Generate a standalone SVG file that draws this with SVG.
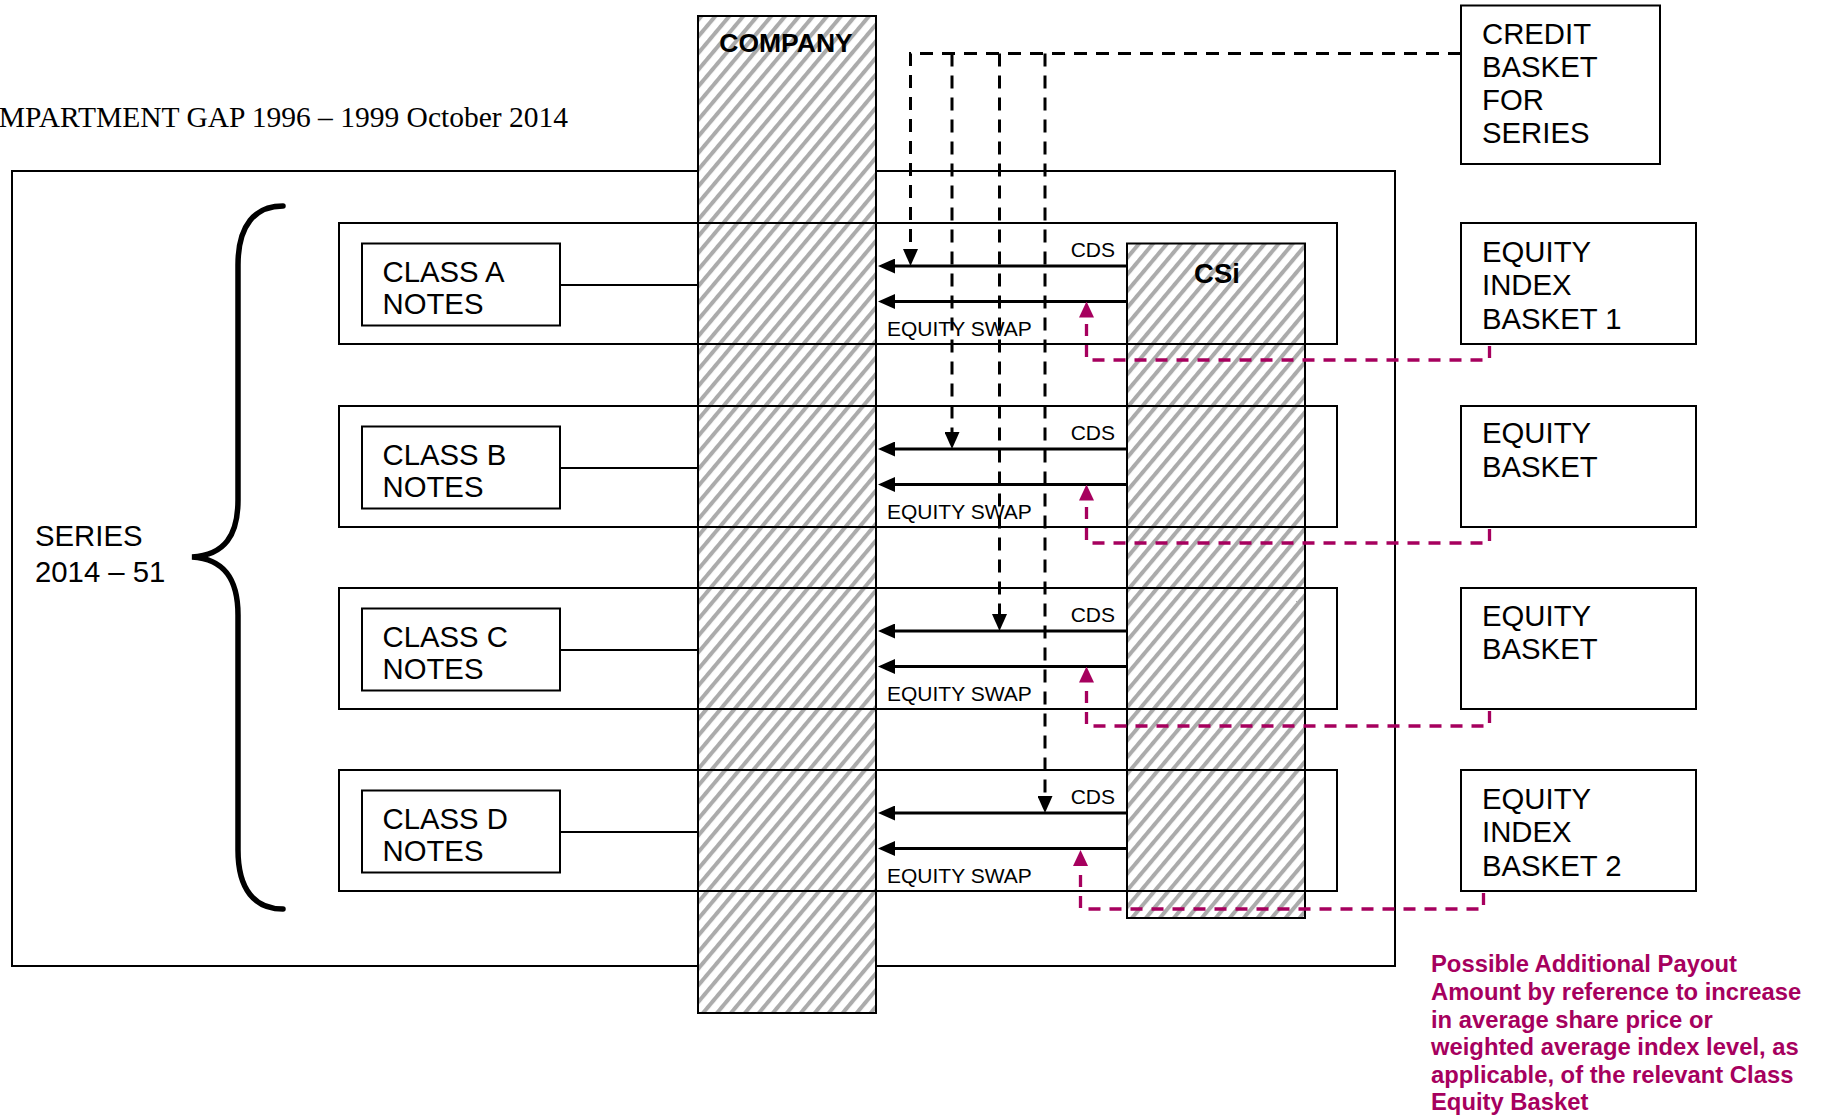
<svg xmlns="http://www.w3.org/2000/svg" width="1829" height="1118" viewBox="0 0 1829 1118">
<style>
  .box{fill:none;stroke:#000;stroke-width:2}
  .lbl{font-family:"Liberation Sans",Arial,sans-serif;font-size:29.3px;fill:#000}
  .sm{font-family:"Liberation Sans",Arial,sans-serif;font-size:21px;fill:#000}
  .bold{font-family:"Liberation Sans",Arial,sans-serif;font-weight:bold;fill:#000}
  .flow{fill:none;stroke:#000;stroke-width:3}
  .cred{fill:none;stroke:#000;stroke-width:3;stroke-dasharray:13 9}
  .mag{fill:none;stroke:#A6005E;stroke-width:3.3;stroke-dasharray:12 9}
  .note{font-family:"Liberation Sans",Arial,sans-serif;font-weight:bold;font-size:23.8px;fill:#A6005E}
</style>
<defs>
  <pattern id="hatch" patternUnits="userSpaceOnUse" width="10.7" height="20" patternTransform="rotate(40)">
    <rect x="0" y="0" width="10.7" height="20" fill="#fff"/>
    <rect x="0" y="0" width="4" height="20" fill="#ababab"/>
  </pattern>
  <marker id="ab" markerUnits="userSpaceOnUse" markerWidth="17" markerHeight="15" refX="11" refY="7.5" orient="auto">
    <path d="M0,0 L17,7.5 L0,15 Z" fill="#000"/>
  </marker>
  <marker id="am" markerUnits="userSpaceOnUse" markerWidth="16" markerHeight="15" refX="10" refY="7.5" orient="auto">
    <path d="M0,0 L16,7.5 L0,15 Z" fill="#A6005E"/>
  </marker>
</defs>
<rect width="1829" height="1118" fill="#fff"/>

<text x="568" y="127" text-anchor="end" font-family="Liberation Serif,'Times New Roman',serif" font-size="29.5" fill="#000">MPARTMENT GAP 1996 – 1999 October 2014</text>

<g id="compartment">
  <rect class="box" x="12" y="171" width="1383" height="795"/>
</g>

<g id="company">
  <rect x="698" y="16" width="178" height="997" fill="url(#hatch)" stroke="#000" stroke-width="2"/>
  <text class="bold" x="786" y="52" font-size="26.5" text-anchor="middle">COMPANY</text>
</g>

<g id="csi">
  <rect x="1127" y="243.5" width="178" height="674.5" fill="url(#hatch)" stroke="#000" stroke-width="2"/>
  <text class="bold" x="1217" y="283" font-size="27.5" text-anchor="middle">CSi</text>
</g>

<g id="series">
  <path d="M283,206 C255,206 238,225 238,265 L238,500 C238,535 225,555 192,557 C225,559 238,580 238,615 L238,850 C238,890 255,909 283,909" fill="none" stroke="#000" stroke-width="5.5" stroke-linecap="round"/>
  <text class="lbl" x="35" y="546">SERIES</text>
  <text class="lbl" x="35" y="582">2014 – 51</text>
</g>

<g id="row-a">
  <rect class="box" x="339" y="223" width="998" height="121"/>
  <rect class="box" x="362" y="243.5" width="198" height="82"/>
  <text class="lbl" x="382.5" y="282">CLASS A</text>
  <text class="lbl" x="382.5" y="314">NOTES</text>
</g>
<g id="row-b">
  <rect class="box" x="339" y="406" width="998" height="121"/>
  <rect class="box" x="362" y="426.5" width="198" height="82"/>
  <text class="lbl" x="382.5" y="465">CLASS B</text>
  <text class="lbl" x="382.5" y="497">NOTES</text>
</g>
<g id="row-c">
  <rect class="box" x="339" y="588" width="998" height="121"/>
  <rect class="box" x="362" y="608.5" width="198" height="82"/>
  <text class="lbl" x="382.5" y="647">CLASS C</text>
  <text class="lbl" x="382.5" y="679">NOTES</text>
</g>
<g id="row-d">
  <rect class="box" x="339" y="770" width="998" height="121"/>
  <rect class="box" x="362" y="790.5" width="198" height="82"/>
  <text class="lbl" x="382.5" y="829">CLASS D</text>
  <text class="lbl" x="382.5" y="861">NOTES</text>
</g>

<g id="credit-basket">
  <rect class="box" x="1461" y="5.5" width="199" height="158.5"/>
  <text class="lbl" x="1482" y="43.5">CREDIT</text>
  <text class="lbl" x="1482" y="76.5">BASKET</text>
  <text class="lbl" x="1482" y="110">FOR</text>
  <text class="lbl" x="1482" y="143">SERIES</text>
</g>
<g id="equity-index-basket-1">
  <rect class="box" x="1461" y="223" width="235" height="121"/>
  <text class="lbl" x="1482" y="262">EQUITY</text>
  <text class="lbl" x="1482" y="295">INDEX</text>
  <text class="lbl" x="1482" y="328.5">BASKET 1</text>
</g>
<g id="equity-basket-b">
  <rect class="box" x="1461" y="406" width="235" height="121"/>
  <text class="lbl" x="1482" y="443">EQUITY</text>
  <text class="lbl" x="1482" y="477">BASKET</text>
</g>
<g id="equity-basket-c">
  <rect class="box" x="1461" y="588" width="235" height="121"/>
  <text class="lbl" x="1482" y="626">EQUITY</text>
  <text class="lbl" x="1482" y="659">BASKET</text>
</g>
<g id="equity-index-basket-2">
  <rect class="box" x="1461" y="770" width="235" height="121"/>
  <text class="lbl" x="1482" y="809">EQUITY</text>
  <text class="lbl" x="1482" y="842">INDEX</text>
  <text class="lbl" x="1482" y="876">BASKET 2</text>
</g>

<g id="note">
  <text class="note" x="1431" y="972">Possible Additional Payout</text>
  <text class="note" x="1431" y="1000">Amount by reference to increase</text>
  <text class="note" x="1431" y="1028">in average share price or</text>
  <text class="note" x="1431" y="1055">weighted average index level, as</text>
  <text class="note" x="1431" y="1083">applicable, of the relevant Class</text>
  <text class="note" x="1431" y="1110">Equity Basket</text>
</g>

<g id="connectors">
  <line class="box" x1="560" y1="285" x2="698" y2="285"/>
  <line class="box" x1="560" y1="468" x2="698" y2="468"/>
  <line class="box" x1="560" y1="650" x2="698" y2="650"/>
  <line class="box" x1="560" y1="832" x2="698" y2="832"/>

  <path class="flow" d="M1127,266 L884,266" marker-end="url(#ab)"/>
  <path class="flow" d="M1127,301.5 L884,301.5" marker-end="url(#ab)"/>
  <path class="flow" d="M1127,449 L884,449" marker-end="url(#ab)"/>
  <path class="flow" d="M1127,484.5 L884,484.5" marker-end="url(#ab)"/>
  <path class="flow" d="M1127,631 L884,631" marker-end="url(#ab)"/>
  <path class="flow" d="M1127,666.5 L884,666.5" marker-end="url(#ab)"/>
  <path class="flow" d="M1127,813 L884,813" marker-end="url(#ab)"/>
  <path class="flow" d="M1127,848.5 L884,848.5" marker-end="url(#ab)"/>

  <text class="sm" x="1115" y="256.5" text-anchor="end">CDS</text>
  <text class="sm" x="887" y="335.5">EQUITY SWAP</text>
  <text class="sm" x="1115" y="439.5" text-anchor="end">CDS</text>
  <text class="sm" x="887" y="518.5">EQUITY SWAP</text>
  <text class="sm" x="1115" y="621.5" text-anchor="end">CDS</text>
  <text class="sm" x="887" y="700.5">EQUITY SWAP</text>
  <text class="sm" x="1115" y="803.5" text-anchor="end">CDS</text>
  <text class="sm" x="887" y="882.5">EQUITY SWAP</text>

  <path class="cred" d="M1461,53.5 L910.5,53.5 L910.5,260" marker-end="url(#ab)"/>
  <path class="cred" d="M952,53.5 L952,443" marker-end="url(#ab)"/>
  <path class="cred" d="M999.5,53.5 L999.5,625" marker-end="url(#ab)"/>
  <path class="cred" d="M1045,53.5 L1045,807" marker-end="url(#ab)"/>

  <path class="mag" d="M1489.5,346 L1489.5,360 L1086.5,360 L1086.5,307.5" marker-end="url(#am)"/>
  <path class="mag" d="M1489.5,529 L1489.5,543 L1086.5,543 L1086.5,490.5" marker-end="url(#am)"/>
  <path class="mag" d="M1489.5,711 L1489.5,726 L1086.5,726 L1086.5,672.5" marker-end="url(#am)"/>
  <path class="mag" d="M1483.5,893 L1483.5,909 L1080.5,909 L1080.5,856" marker-end="url(#am)"/>
</g>
</svg>
